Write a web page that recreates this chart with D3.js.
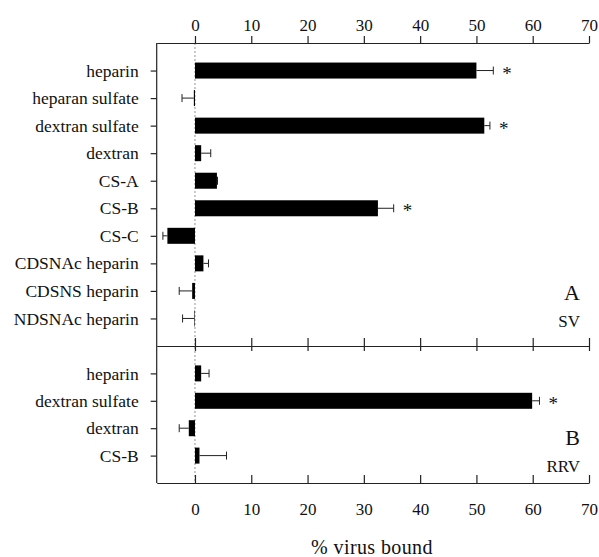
<!DOCTYPE html>
<html lang="en">
<head>
<meta charset="UTF-8">
<title>virus bound</title>
<script src="https://d3js.org/d3.v7.min.js"></script>
<style>
    html, body { margin: 0; padding: 0; background: #fff; }
    text { font-family: "Liberation Serif", "DejaVu Serif", serif; fill: #111; }
    .axis path, .axis line { stroke: #222; stroke-width: 1.2; }
    .axis text { font-size: 17px; }
</style>
</head>
<body>
<div id="chart"></div>
<script>

    // panel A (SV)
    var catsA = ["heparin", "heparan sulfate", "dextran sulfate", "dextran", "CS-A", "CS-B",
                 "CS-C", "CDSNAc heparin", "CDSNS heparin", "NDSNAc heparin"];
    var valsA = [50.0, -0.2, 51.4, 1.1, 3.9, 32.5, -4.9, 1.5, -0.5, -0.1];
    var errA  = [3.0, 2.1, 1.0, 1.7, 0.1, 2.8, 0.8, 0.9, 2.3, 2.1];
    var sigA  = [true, false, true, false, false, true, false, false, false, false];

    // panel B (RRV)
    var catsB = ["heparin", "dextran sulfate", "dextran", "CS-B"];
    var valsB = [1.1, 59.9, -1.1, 0.8];
    var errB  = [1.4, 1.3, 1.7, 4.8];
    var sigB  = [false, true, false, false];

    var xTicks = [0, 10, 20, 30, 40, 50, 60, 70];

    var W = 599, H = 557;
    var plotLeft = 156.7, plotRight = 589;
    var yTop = 43, yMid = 346, yBottom = 483;
    var barH = 16;

    var svg = d3.select("#chart").append("svg")
        .attr("width", W)
        .attr("height", H);

    var x = d3.scaleLinear().domain([-6.8, 70]).range([plotLeft, plotRight]);
    var yA = d3.scalePoint().domain(catsA).range([yTop, yMid]).padding(1);
    var yB = d3.scalePoint().domain(catsB).range([yMid, yBottom]).padding(1);

    // zero line
    svg.append("line")
        .attr("x1", x(0)).attr("x2", x(0))
        .attr("y1", yTop).attr("y2", yBottom)
        .attr("stroke", "#777").attr("stroke-width", 0.8)
        .attr("stroke-dasharray", "2,2");

    function drawPanel(cats, vals, errs, sig, y) {
        var g = svg.append("g");
        cats.forEach(function(c, i) {
            var v = vals[i], e = errs[i];
            var cy = y(c);
            g.append("rect")
                .attr("x", x(Math.min(0, v)))
                .attr("y", cy - barH / 2)
                .attr("width", Math.abs(x(v) - x(0)))
                .attr("height", barH)
                .attr("fill", "#000");
            var end = v >= 0 ? v + e : v - e;
            g.append("line")
                .attr("x1", x(v)).attr("x2", x(end))
                .attr("y1", cy).attr("y2", cy)
                .attr("stroke", "#222").attr("stroke-width", 1);
            g.append("line")
                .attr("x1", x(end)).attr("x2", x(end))
                .attr("y1", cy - 4).attr("y2", cy + 4)
                .attr("stroke", "#222").attr("stroke-width", 1);
            if (sig[i]) {
                g.append("text")
                    .attr("x", x(end) + 9)
                    .attr("y", cy + 9)
                    .style("font-size", "19px")
                    .text("*");
            }
        });

        // category axis on the left
        var ax = svg.append("g")
            .attr("class", "axis")
            .attr("transform", "translate(" + plotLeft + ",0)")
            .call(d3.axisLeft(y).tickSize(6).tickPadding(12).tickSizeOuter(0));
        ax.select(".domain").remove();
        ax.selectAll("text").style("font-size", "17.5px");
    }

    drawPanel(catsA, valsA, errA, sigA, yA);
    drawPanel(catsB, valsB, errB, sigB, yB);

    // left frame
    svg.append("line")
        .attr("x1", plotLeft).attr("x2", plotLeft)
        .attr("y1", yTop).attr("y2", yBottom)
        .attr("stroke", "#222").attr("stroke-width", 1.2);

    // top axis
    svg.append("g")
        .attr("class", "axis")
        .attr("transform", "translate(0," + yTop + ")")
        .call(d3.axisTop(x).tickValues(xTicks).tickSize(7).tickSizeOuter(0).tickPadding(5));

    // middle axis, ticks on both sides
    var midAx = svg.append("g")
        .attr("class", "axis")
        .attr("transform", "translate(0," + yMid + ")")
        .call(d3.axisBottom(x).tickValues(xTicks).tickSize(0).tickSizeOuter(0).tickFormat(""));
    midAx.selectAll(".tick line").attr("y1", -8).attr("y2", 5);

    // bottom axis, ticks inward
    svg.append("g")
        .attr("class", "axis")
        .attr("transform", "translate(0," + yBottom + ")")
        .call(d3.axisBottom(x).tickValues(xTicks).tickSizeInner(-8).tickSizeOuter(0).tickPadding(20));

    // panel labels
    function panelLabel(big, small, yBig, ySmall) {
        svg.append("text").attr("x", 580).attr("y", yBig)
            .attr("text-anchor", "end").style("font-size", "22px").text(big);
        svg.append("text").attr("x", 580).attr("y", ySmall)
            .attr("text-anchor", "end").style("font-size", "17px").text(small);
    }
    panelLabel("A", "SV", 300, 327);
    panelLabel("B", "RRV", 445, 472);

    svg.append("text")
        .attr("x", 372).attr("y", 554)
        .attr("text-anchor", "middle")
        .style("font-size", "20px")
        .style("letter-spacing", "0.4px")
        .text("% virus bound");

</script>
</body>
</html>
